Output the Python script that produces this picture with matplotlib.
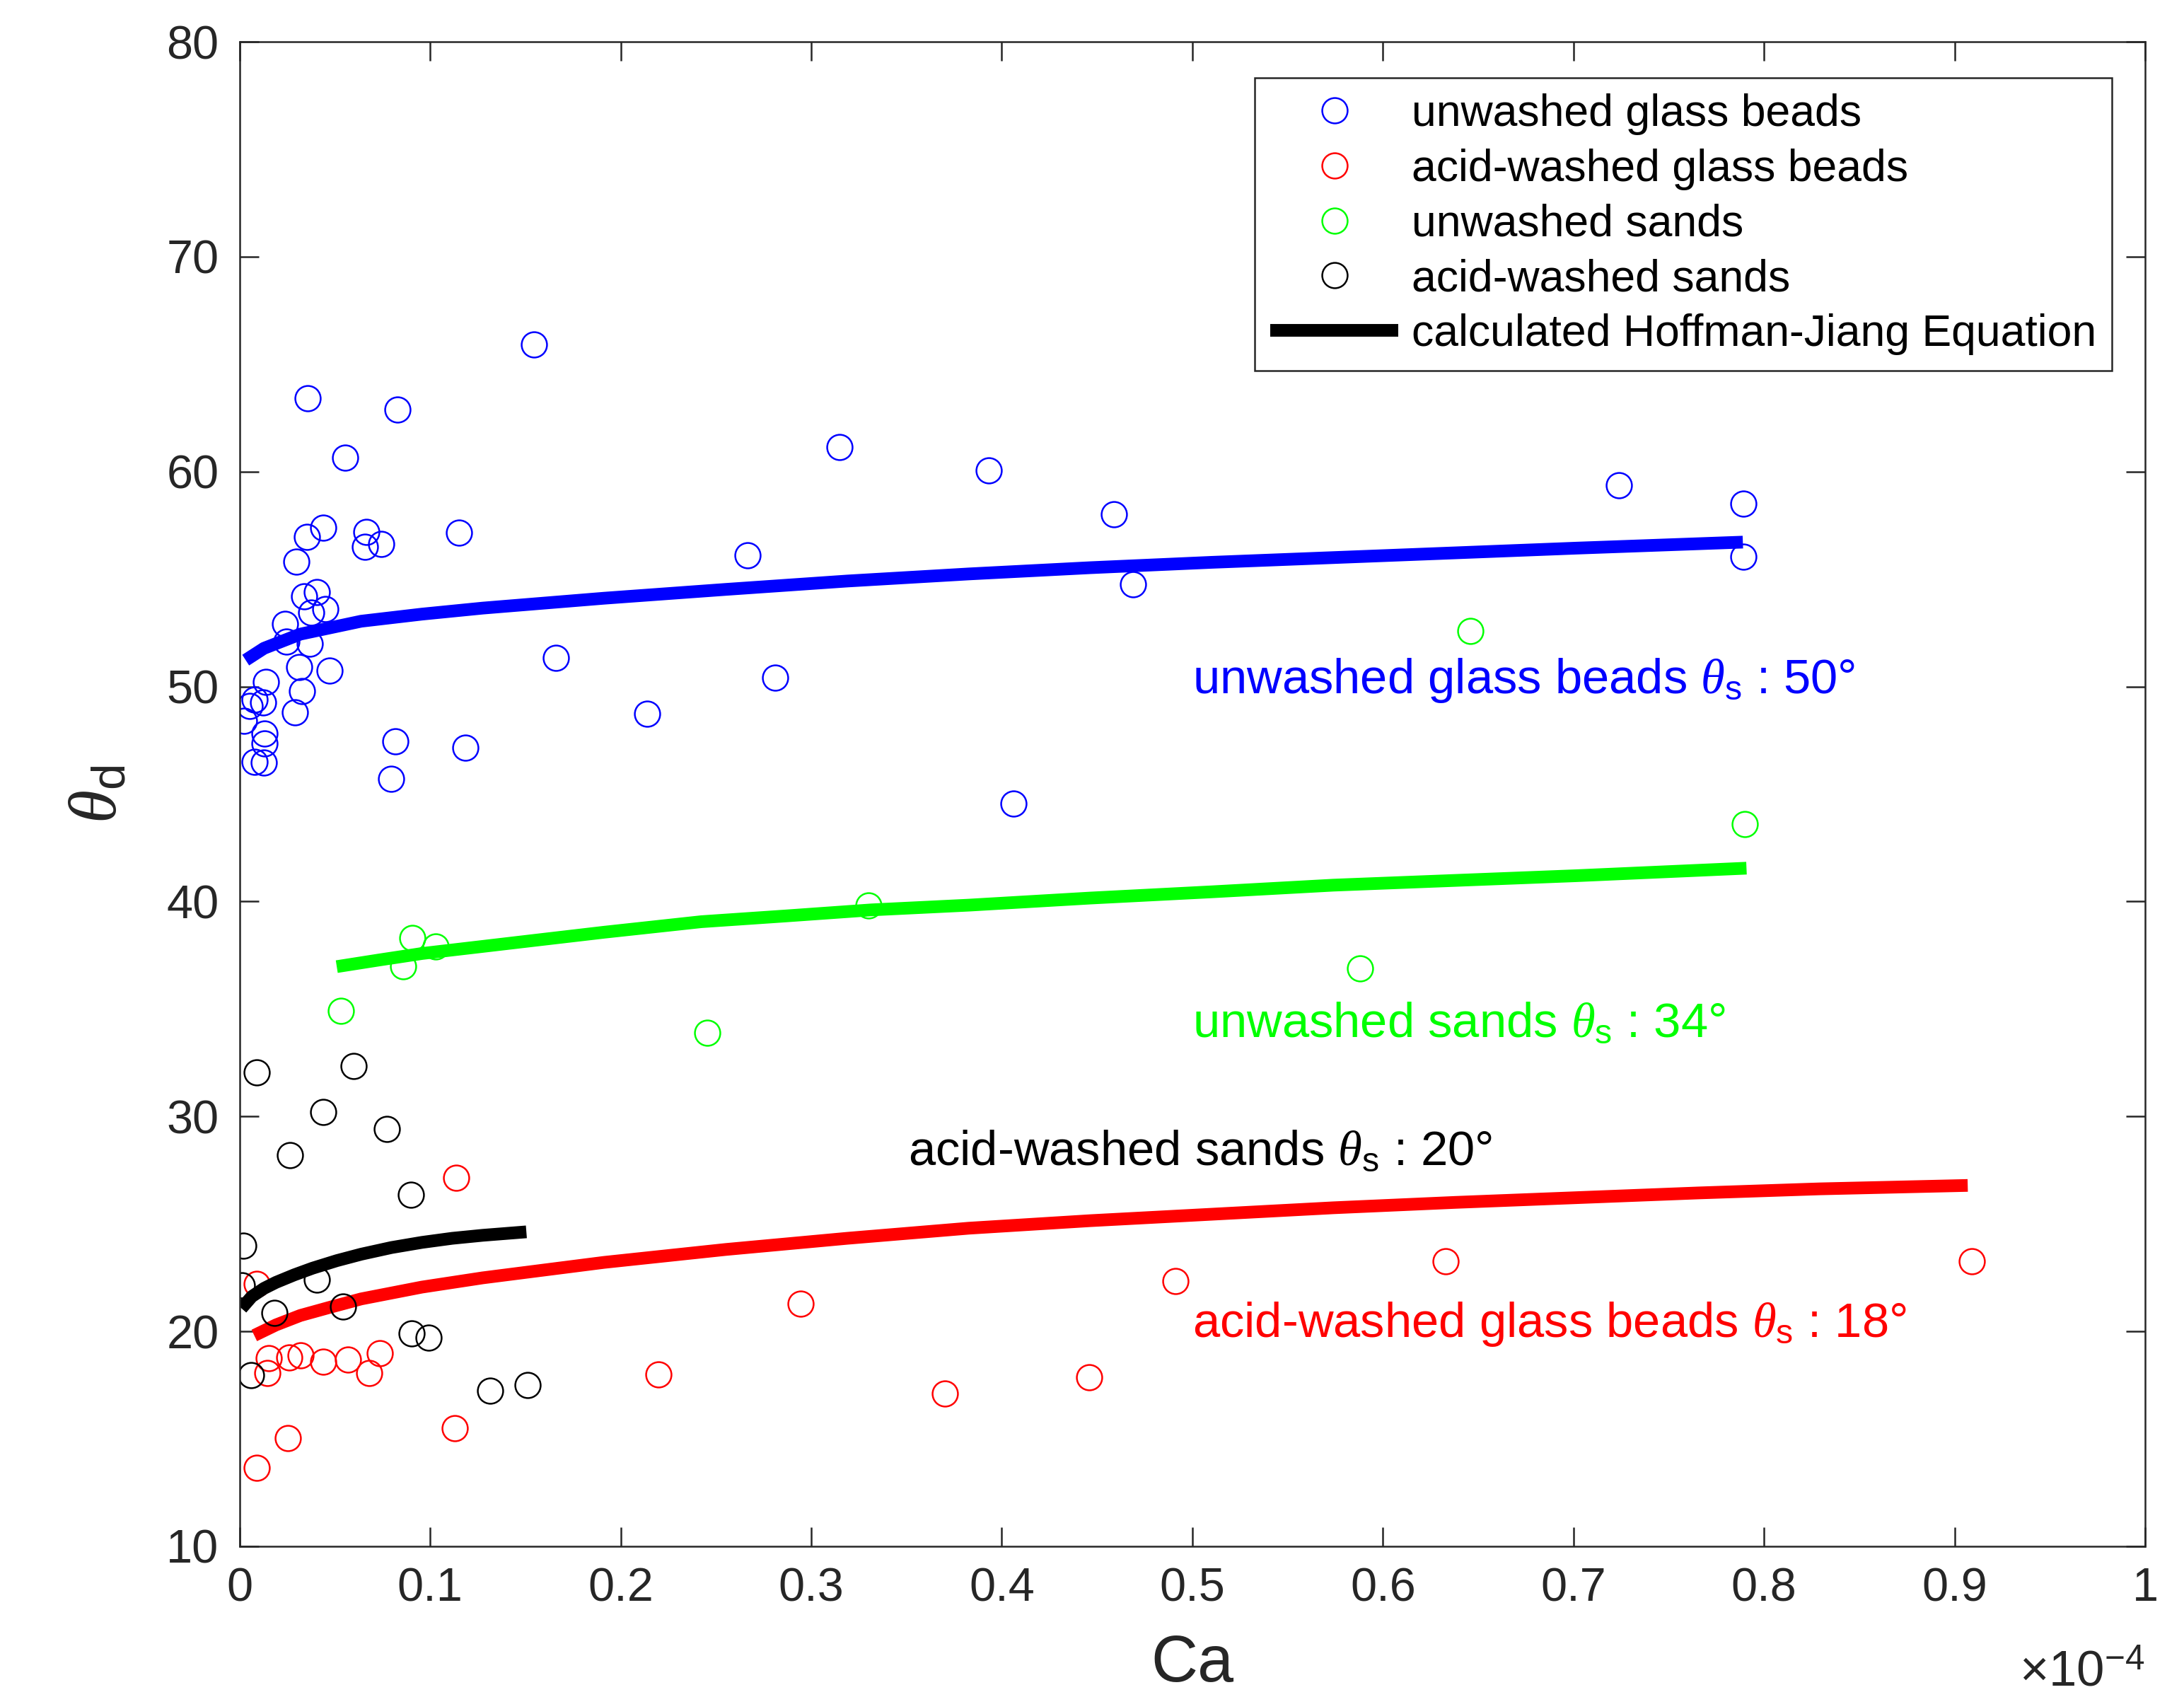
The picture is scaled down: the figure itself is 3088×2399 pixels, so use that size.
import numpy as np
import matplotlib
matplotlib.use('Agg')
import matplotlib.pyplot as plt

plt.rcParams['font.family'] = ['Liberation Sans', 'DejaVu Sans']
plt.rcParams['mathtext.fontset'] = 'custom'
plt.rcParams['mathtext.rm'] = 'Liberation Sans'
plt.rcParams['mathtext.it'] = 'Liberation Serif:italic'
plt.rcParams['mathtext.bf'] = 'Liberation Sans:bold'

# Ca values are in units of 1e-4 (axis shows x10^-4 multiplier)
# unwashed glass beads
ugb_ca = [0.0357, 0.083, 0.0553, 0.1545, 0.0438, 0.0355, 0.0299, 0.0664, 0.0657, 0.0744,
          0.1153, 0.0339, 0.0405, 0.045, 0.0376, 0.024, 0.0246, 0.037, 0.0312, 0.0473,
          0.0138, 0.0326, 0.0078, 0.0122, 0.0054, 0.0023, 0.029, 0.0129, 0.0129, 0.0079,
          0.0126, 0.0819, 0.1186, 0.0797, 0.166, 0.315, 0.393, 0.459, 0.469, 0.2666,
          0.281, 0.214, 0.406, 0.724, 0.789, 0.789]
ugb_th = [63.4, 62.9, 60.65, 65.9, 57.4, 56.95, 55.8, 57.2, 56.5, 56.65,
          57.16, 54.2, 54.4, 53.6, 53.45, 52.9, 52.1, 52.0, 50.9, 50.75,
          50.2, 49.8, 49.4, 49.25, 49.1, 48.4, 48.8, 47.8, 47.35, 46.5,
          46.45, 47.45, 47.15, 45.7, 51.35, 61.15, 60.05, 58.0, 54.75, 56.1,
          50.4, 48.75, 44.55, 59.35, 58.5, 56.05]

# acid-washed glass beads
agb_ca = [0.0091, 0.0153, 0.0259, 0.032, 0.0438, 0.057, 0.0735, 0.0679, 0.0147, 0.0252,
          0.0091, 0.113, 0.1135, 0.2946, 0.22, 0.37, 0.446, 0.491, 0.633, 0.909]
agb_th = [22.2, 18.75, 18.8, 18.9, 18.6, 18.7, 19.0, 18.05, 18.05, 15.05,
          13.65, 15.5, 27.15, 21.3, 18.0, 17.1, 17.85, 22.35, 23.25, 23.25]

# unwashed sands
us_ca = [0.053, 0.086, 0.0906, 0.103, 0.2456, 0.330, 0.588, 0.646, 0.79]
us_th = [34.9, 37.0, 38.3, 37.9, 33.9, 39.8, 36.9, 52.6, 43.6]

# acid-washed sands
as_ca = [0.0091, 0.0599, 0.0438, 0.0772, 0.0265, 0.0899, 0.002, 0.0011, 0.0405, 0.0184,
         0.0543, 0.0902, 0.0992, 0.006, 0.1316, 0.1512]
as_th = [32.05, 32.35, 30.2, 29.4, 28.2, 26.35, 24.0, 22.15, 22.4, 20.85,
         21.15, 19.9, 19.7, 17.95, 17.25, 17.5]

# calculated Hoffman-Jiang curves
ugb_fit_ca = [0.0032, 0.0128, 0.0319, 0.0638, 0.0957, 0.1276, 0.1913, 0.2551, 0.3189,
              0.3827, 0.4464, 0.5102, 0.574, 0.6378, 0.7015, 0.7889]
ugb_fit_th = [51.23, 51.78, 52.44, 53.04, 53.37, 53.65, 54.11, 54.52, 54.91,
              55.24, 55.53, 55.78, 56.0, 56.22, 56.44, 56.72]
agb_fit_ca = [0.0077, 0.0191, 0.0319, 0.0478, 0.0638, 0.0957, 0.1276, 0.1913, 0.2551, 0.3189,
              0.3827, 0.4464, 0.5102, 0.574, 0.6378, 0.7015, 0.7653, 0.8291, 0.9069]
agb_fit_th = [19.81, 20.3, 20.74, 21.13, 21.51, 22.06, 22.49, 23.21, 23.81, 24.33,
              24.8, 25.15, 25.45, 25.75, 26.0, 26.22, 26.44, 26.63, 26.79]
us_fit_ca = [0.051, 0.0733, 0.0957, 0.1276, 0.1594, 0.1913, 0.2423, 0.287, 0.3316,
             0.3827, 0.4464, 0.5102, 0.574, 0.6378, 0.7015, 0.7908]
us_fit_th = [36.97, 37.28, 37.58, 37.91, 38.24, 38.57, 39.06, 39.33, 39.61,
             39.83, 40.16, 40.45, 40.76, 40.98, 41.2, 41.55]
as_fit_ca = [0.001, 0.0064, 0.0128, 0.0191, 0.0287, 0.0383, 0.051, 0.0638, 0.0797,
             0.0957, 0.1116, 0.1276, 0.1505]
as_fit_th = [21.07, 21.62, 22.0, 22.28, 22.63, 22.94, 23.29, 23.59, 23.9,
             24.14, 24.33, 24.47, 24.63]

labels = ['unwashed glass beads', 'acid-washed glass beads', 'unwashed sands',
          'acid-washed sands', 'calculated Hoffman-Jiang Equation']

axcol = '#262626'
ms = 8.6
mew = 0.6
lw = 4.3

fig = plt.figure(figsize=(3088/300, 2399/300), dpi=300)
ax = fig.add_axes([0.1097, 0.0888, 0.8725, 0.8866])

h1, = ax.plot(ugb_ca, ugb_th, 'o', mfc='none', mec='#0000ff', ms=ms, mew=mew)
ax.plot(ugb_fit_ca, ugb_fit_th, '-', color='#0000ff', lw=lw, solid_capstyle='butt')
h2, = ax.plot(agb_ca, agb_th, 'o', mfc='none', mec='#ff0000', ms=ms, mew=mew)
ax.plot(agb_fit_ca, agb_fit_th, '-', color='#ff0000', lw=lw, solid_capstyle='butt')
h3, = ax.plot(us_ca, us_th, 'o', mfc='none', mec='#00ff00', ms=ms, mew=mew)
ax.plot(us_fit_ca, us_fit_th, '-', color='#00ff00', lw=lw, solid_capstyle='butt')
h4, = ax.plot(as_ca, as_th, 'o', mfc='none', mec='#000000', ms=ms, mew=mew)
h5, = ax.plot(as_fit_ca, as_fit_th, '-', color='#000000', lw=lw, solid_capstyle='butt')

ax.set_xlim(0, 1)
ax.set_ylim(10, 80)
ax.set_xticks(np.arange(0, 1.01, 0.1))
ax.set_xticklabels(['0', '0.1', '0.2', '0.3', '0.4', '0.5', '0.6', '0.7', '0.8', '0.9', '1'])
ax.set_yticks(np.arange(10, 81, 10))
ax.tick_params(direction='in', top=True, right=True, length=6.5, width=0.6,
               color=axcol, labelcolor=axcol, labelsize=16, pad=7)
for s in ax.spines.values():
    s.set_color(axcol)
    s.set_linewidth(0.6)

ax.set_xlabel('Ca', fontsize=22, color=axcol)
ax.xaxis.label.set_verticalalignment('baseline')
ax.xaxis.set_label_coords(0.5, -0.090)
ax.set_ylabel(r'$\theta_{\rm d}$', fontsize=23, color=axcol)
ax.yaxis.label.set_verticalalignment('center')
ax.yaxis.set_label_coords(-0.074, 0.5)
ax.text(1.0, -0.0925, r'$\times10^{-4}$', transform=ax.transAxes, ha='right',
        va='baseline', fontsize=17, color=axcol)

ax.text(0.5, 49.7, r'unwashed glass beads $\theta_{\rm s}$ : 50°', color='#0000ff', fontsize=16.5)
ax.text(0.5, 33.7, r'unwashed sands $\theta_{\rm s}$ : 34°', color='#00ff00', fontsize=16.5)
ax.text(0.351, 27.76, r'acid-washed sands $\theta_{\rm s}$ : 20°', color='#000000', fontsize=16.5)
ax.text(0.5, 19.75, r'acid-washed glass beads $\theta_{\rm s}$ : 18°', color='#ff0000', fontsize=16.5)

leg = ax.legend([h1, h2, h3, h4, h5], labels, loc='upper right',
                bbox_to_anchor=(0.9826, 0.976), borderaxespad=0, fontsize=15,
                handlelength=2.9, handletextpad=0.3, labelspacing=0.3,
                borderpad=0.35, fancybox=False, framealpha=1)
leg.get_frame().set_edgecolor(axcol)
leg.get_frame().set_linewidth(0.6)

fig.savefig('out.png', dpi=300)
